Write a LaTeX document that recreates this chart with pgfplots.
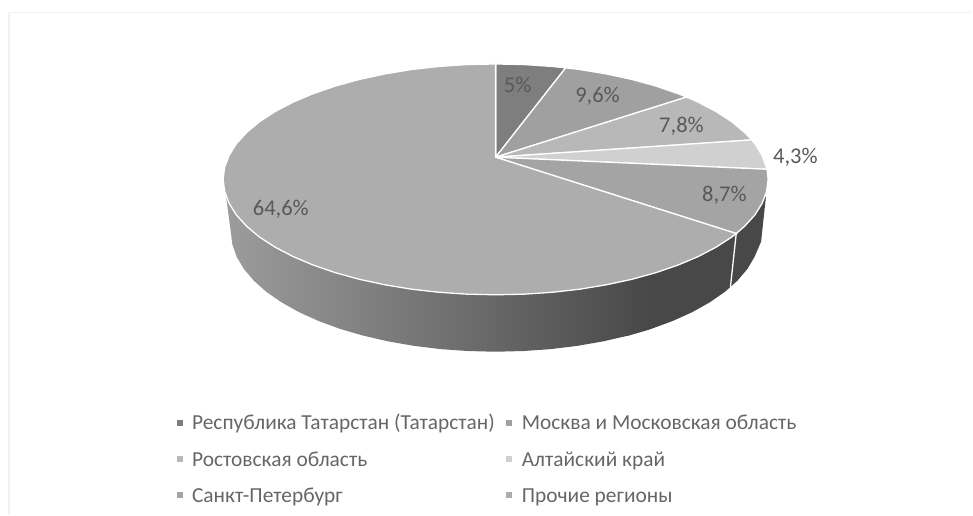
\documentclass[border=0pt]{standalone}
\usepackage{pgfplots}
\pgfplotsset{compat=1.18}
\usepackage{fontspec}
\setmainfont{Carlito}
\definecolor{cA}{HTML}{7E7E7E}
\definecolor{cB}{HTML}{A0A0A0}
\definecolor{cC}{HTML}{B8B8B8}
\definecolor{cD}{HTML}{D0D0D0}
\definecolor{cE}{HTML}{A4A4A4}
\definecolor{cF}{HTML}{ADADAD}
\definecolor{wallL}{HTML}{9C9C9C}
\definecolor{wallR}{HTML}{484848}
\definecolor{txt}{HTML}{595959}
\definecolor{ltxt}{HTML}{666666}
\definecolor{frm}{HTML}{F2F2F2}
\begin{document}
\begin{tikzpicture}
\begin{axis}[
  scale only axis, width=973pt, height=515pt,
  xmin=0, xmax=973, ymin=0, ymax=515, y dir=reverse,
  axis lines=none, clip=false,
  legend columns=2,
  legend cell align=left,
  legend image code/.code={\fill[#1,draw=none] (0pt,-1pt) rectangle (6pt,5pt);},
  legend style={
    at={(axis cs:176.5,413)}, anchor=north west, draw=none, fill=none,
    font=\fontsize{21.4}{24}\selectfont, text=ltxt,
    row sep=12.2pt, inner sep=0pt,
    nodes={text height=15pt, text depth=5pt},
    /tikz/every odd column/.append style={column sep=7.5pt},
    /tikz/column 2/.style={column sep=9.5pt},
  },
]
% frame
\addplot[frm, line width=1.5pt, forget plot] coordinates {(9,515) (9,12.5) (973,12.5)};
% walls
\addplot[forget plot, draw=none, fill=wallR] coordinates {
(620,270) (620,337) (628.5,335.9) (651.8,329.1) (673.3,321.2) (692.9,312.3) (710.4,302.5) (725.5,292) (738.1,280.8)
(748,269.1) (755.2,256.9) (761.7,241.7) (766.5,197)
} -- cycle;
\addplot[forget plot, draw=none, left color=wallL, right color=wallR, shading=axis] coordinates {
(226,195) (231,232) (232.5,244.5) (236.8,256.9) (244,269.1) (253.9,280.8) (266.5,292) (281.6,302.5)
(299.1,312.3) (318.7,321.2) (340.2,329.1) (363.5,335.9) (388.2,341.6) (414.1,346.1) (440.9,349.4)
(468.3,351.3) (496,352) (523.7,351.3) (551.1,349.4) (577.9,346.1) (603.8,341.6) (628.5,335.9) (650,329.7) (650,270)
} -- cycle;
\addplot[forget plot, white, line width=1.3pt] coordinates {(736.8,233.7) (731,287)};
% top slices
\addplot[draw=white, line width=1.3pt, fill=cA] coordinates {
(496,157.3) (496,64) (524.5,64.6) (552.7,66.5) (566.1,67.9)} -- cycle;
\addlegendentry{Республика Татарстан (Татарстан)}
\addplot[draw=white, line width=1.3pt, fill=cB] coordinates {
(496,157.3) (566.1,67.9) (580.3,69.6) (606.9,74) (632.4,79.5) (656.3,86.1) (678.5,93.7) (687.1,97.1)} -- cycle;
\addlegendentry{Москва и Московская область}
\addplot[draw=white, line width=1.3pt, fill=cC] coordinates {
(496,157.3) (687.1,97.1) (698.6,102.2) (716.6,111.6) (732.2,121.7) (745.1,132.5) (752.3,140)} -- cycle;
\addlegendentry{Ростовская область}
\addplot[draw=white, line width=1.3pt, fill=cD] coordinates {
(496,157.3) (752.3,140) (755.4,143.8) (762.7,155.5) (767.7,169.4)} -- cycle;
\addlegendentry{Алтайский край}
\addplot[draw=white, line width=1.3pt, fill=cE] coordinates {
(496,157.3) (767.7,169.4) (768.7,179.5) (767.2,191.6) (762.7,203.5) (755.4,215.2) (745.1,226.5) (736.8,233.7)} -- cycle;
\addlegendentry{Санкт-Петербург}
\addplot[draw=white, line width=1.3pt, fill=cF] coordinates {
(496,157.3) (736.8,233.7) (732.2,237.3) (716.6,247.4) (698.6,256.8) (678.5,265.3) (656.3,272.9) (632.4,279.5)
(606.9,285) (580.3,289.4) (552.7,292.5) (524.5,294.4) (496,295) (467.5,294.4) (439.3,292.5) (411.7,289.4)
(385.1,285) (359.6,279.5) (335.7,272.9) (313.5,265.3) (293.4,256.8) (275.4,247.4) (259.8,237.3) (246.9,226.5)
(236.6,215.2) (229.3,203.5) (224.8,191.6) (223.3,179.5) (224.8,167.4) (229.3,155.5) (236.6,143.8) (246.9,132.5)
(259.8,121.7) (275.4,111.6) (293.4,102.2) (313.5,93.7) (335.7,86.1) (359.6,79.5) (385.1,74) (411.7,69.6)
(439.3,66.5) (467.5,64.6) (496,64)} -- cycle;
\addlegendentry{Прочие регионы}
% labels
\node[text=txt, font=\fontsize{22.5}{24}\selectfont] at (axis cs:518,85) {5\%};
\node[text=txt, font=\fontsize{22.5}{24}\selectfont] at (axis cs:598,96) {9,6\%};
\node[text=txt, font=\fontsize{22.5}{24}\selectfont] at (axis cs:682,126) {7,8\%};
\node[text=txt, font=\fontsize{22.5}{24}\selectfont] at (axis cs:796,157) {4,3\%};
\node[text=txt, font=\fontsize{22.5}{24}\selectfont] at (axis cs:725,195) {8,7\%};
\node[text=txt, font=\fontsize{22.5}{24}\selectfont] at (axis cs:281,209) {64,6\%};
\end{axis}
\path (current axis.south west) rectangle (current axis.north east);
\end{tikzpicture}
\end{document}
